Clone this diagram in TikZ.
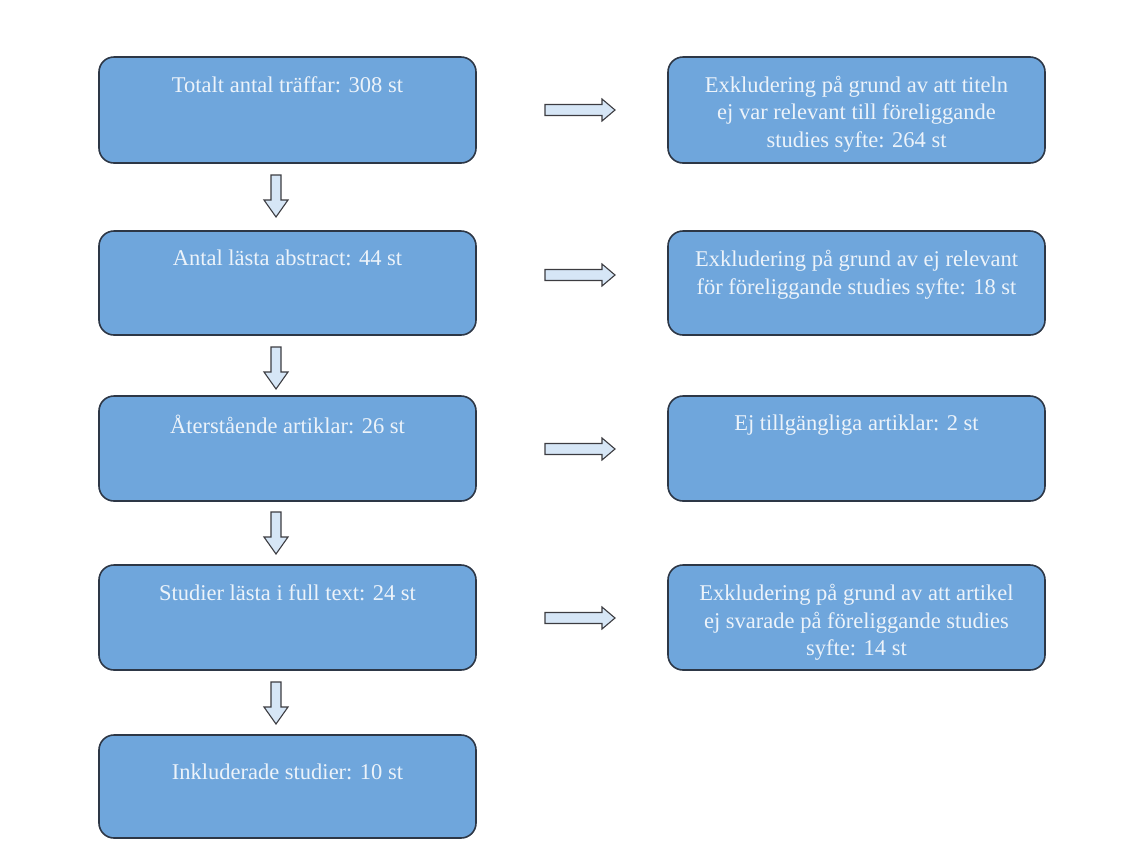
\documentclass[tikz,border=0pt]{standalone}
\usepackage{fontspec}
\setmainfont{Liberation Serif}
\definecolor{boxfill}{RGB}{111,166,220}
\definecolor{boxline}{RGB}{45,55,70}
\definecolor{txt}{RGB}{236,243,250}
\definecolor{arrfill}{RGB}{214,230,246}
\definecolor{arrline}{RGB}{60,60,65}
\begin{document}
\begin{tikzpicture}[x=1pt,y=-1pt,
  flowbox/.style={draw=boxline,line width=1.6pt,fill=boxfill,rounded corners=15pt,inner sep=0pt},
  lbl/.style={text=txt,font=\fontsize{22.5}{27.5}\selectfont,align=center,inner sep=0pt,anchor=north},
  blockarrow/.style={draw=arrline,line width=1.1pt,fill=arrfill,line join=miter}]
\useasboundingbox (0,0) rectangle (1131,855);
% left boxes
\foreach \n/\t/\b in {L1/57/163, L2/231/335, L3/396/501, L4/565/670, L5/735/838}{
  \draw[flowbox] (99,\t) rectangle (476,\b);
  \coordinate (\n) at (287.5,\t);
}
\foreach \n/\t/\b in {R1/57/163, R2/231/335, R3/396/501, R4/565/670}{
  \draw[flowbox] (668,\t) rectangle (1045,\b);
  \coordinate (\n) at (856.5,\t);
}
\node[lbl] (t1) at ([yshift=-19pt]L1) {Totalt antal träffar: 308 st};
\node[lbl] (t2) at ([yshift=-19pt]L2) {Antal lästa abstract: 44 st};
\node[lbl] (t3) at ([yshift=-19pt]L3) {Återstående artiklar: 26 st};
\node[lbl] (t4) at ([yshift=-19pt]L4) {Studier lästa i full text: 24 st};
\node[lbl] (t5) at ([yshift=-29pt]L5) {Inkluderade studier: 10 st};
\node[lbl] (r1) at ([yshift=-19pt]R1) {Exkludering på grund av att titeln\\ej var relevant till föreliggande\\studies syfte: 264 st};
\node[lbl] (r2) at ([yshift=-19pt]R2) {Exkludering på grund av ej relevant\\för föreliggande studies syfte: 18 st};
\node[lbl] (r3) at ([yshift=-19pt]R3) {Ej tillgängliga artiklar: 2 st};
\node[lbl] (r4) at ([yshift=-19pt]R4) {Exkludering på grund av att artikel\\ej svarade på föreliggande studies\\syfte: 14 st};
% down arrows
\foreach \y in {175,347,512,682}{
  \draw[blockarrow] (271,\y) -- (281,\y) -- (281,\y+25) -- (288,\y+25) -- (276,\y+42) -- (264,\y+25) -- (271,\y+25) -- cycle;
}
% right arrows
\foreach \y in {110,275,449,618}{
  \draw[blockarrow] (545,\y-5.5) -- (602,\y-5.5) -- (602,\y-11) -- (615,\y) -- (602,\y+11) -- (602,\y+5.5) -- (545,\y+5.5) -- cycle;
}
\end{tikzpicture}
\end{document}
